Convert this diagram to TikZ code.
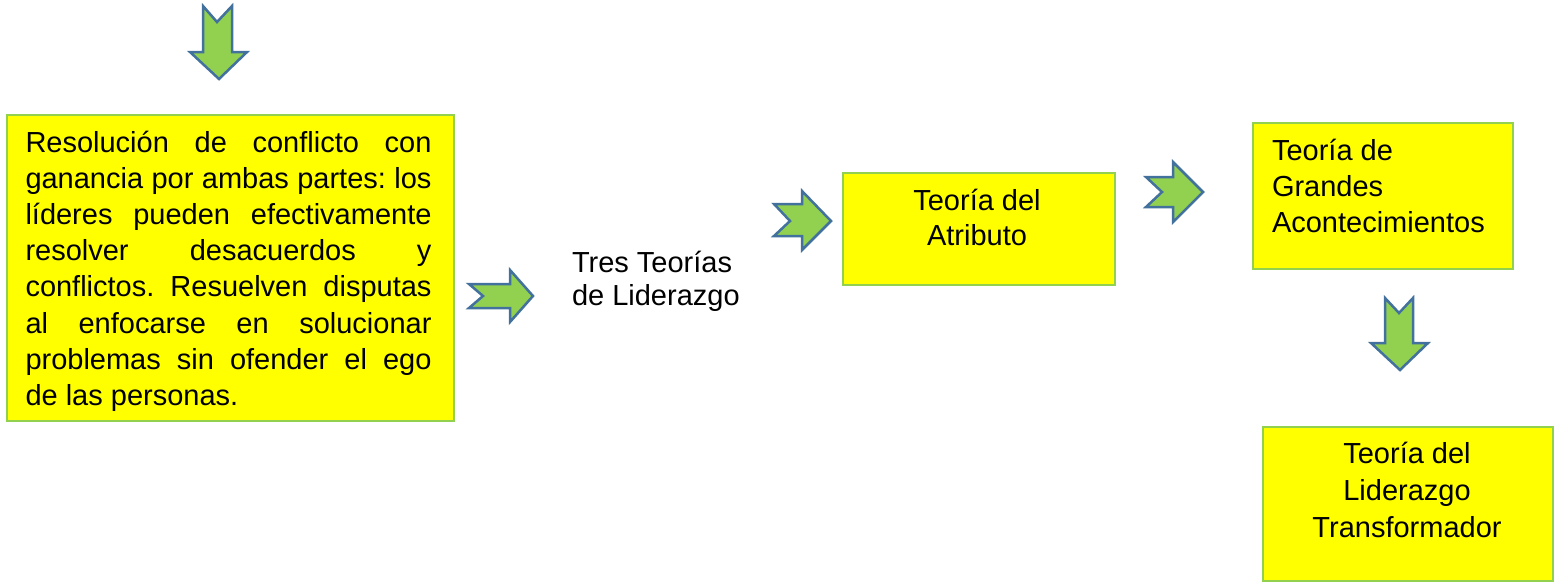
\documentclass[tikz,border=0pt]{standalone}
\usepackage{fontspec}
\setmainfont{Liberation Sans}
\frenchspacing
\definecolor{boxfill}{HTML}{FFFF00}
\definecolor{boxline}{HTML}{92D050}
\definecolor{arrfill}{HTML}{92D050}
\definecolor{arrline}{HTML}{41719C}
\newcommand\justline[1]{\makebox[406pt][s]{#1}\\}
\tikzset{
  ybox/.style={draw=boxline, fill=boxfill, line width=1.5pt, inner sep=0pt, anchor=north west},
  txt/.style={inner sep=0pt, outer sep=0pt},
  blockarrow/.style={draw=arrline, fill=arrfill, line width=2.5pt, line join=miter},
}
\begin{document}
\begin{tikzpicture}[x=1pt,y=-1pt]
\useasboundingbox (0,0) rectangle (1559,582);

% boxes
\node[ybox, minimum width=447pt, minimum height=306pt] (b1) at (6,114) {};
\node[ybox, minimum width=272pt, minimum height=112pt] (b2) at (842,172) {};
\node[ybox, minimum width=260pt, minimum height=146pt] (b3) at (1252,122) {};
\node[ybox, minimum width=290pt, minimum height=154pt] (b4) at (1262,426) {};

% texts
\node[txt, anchor=base west] (t1) at (25.5,152) {\parbox[t]{406pt}{\fontsize{29}{36.2}\selectfont
\justline{Resolución de conflicto con}
\justline{ganancia por ambas partes: los}
\justline{líderes pueden efectivamente}
\justline{resolver desacuerdos y}
\justline{conflictos. Resuelven disputas}
\justline{al enfocarse en solucionar}
\justline{problemas sin ofender el ego}
de las personas.}};

\node[txt, anchor=base west] (t0) at (572,272) {\parbox[t]{200pt}{\raggedright\fontsize{29}{33.3}\selectfont Tres Teorías\\de Liderazgo}};

\node[txt, anchor=base] (t2) at (977,210) {\parbox[t]{260pt}{\centering\fontsize{29}{35}\selectfont Teoría del\\Atributo}};

\node[txt, anchor=base west] (t3) at (1272,160) {\parbox[t]{238pt}{\raggedright\fontsize{29}{36}\selectfont Teoría de\\Grandes\\Acontecimientos}};

\node[txt, anchor=base] (t4) at (1407,463) {\parbox[t]{280pt}{\centering\fontsize{29}{37}\selectfont Teoría del\\Liderazgo\\Transformador}};

% block arrows
% top down arrow
\draw[blockarrow] (203,6) -- (217,22) -- (232,6) -- (232,52) -- (247,52) -- (219,79) -- (190,52) -- (203,52) -- cycle;
% right arrow before "Tres Teorias"
\draw[blockarrow] (469,284) -- (510,284) -- (510,270) -- (533,296) -- (510,322) -- (510,308) -- (469,308) -- (483,296) -- cycle;
% right arrow before Atributo
\draw[blockarrow] (774,204) -- (802,204) -- (802,191) -- (831,221) -- (802,250) -- (802,236) -- (774,236) -- (790,221) -- cycle;
% right arrow before Grandes
\draw[blockarrow] (1146,177) -- (1173,177) -- (1173,162) -- (1203,192) -- (1173,222) -- (1173,207) -- (1146,207) -- (1162,192) -- cycle;
% down arrow before Transformador
\draw[blockarrow] (1385,298) -- (1399,313) -- (1413,298) -- (1413,343) -- (1428,343) -- (1400,370) -- (1371,343) -- (1385,343) -- cycle;
\end{tikzpicture}
\end{document}
